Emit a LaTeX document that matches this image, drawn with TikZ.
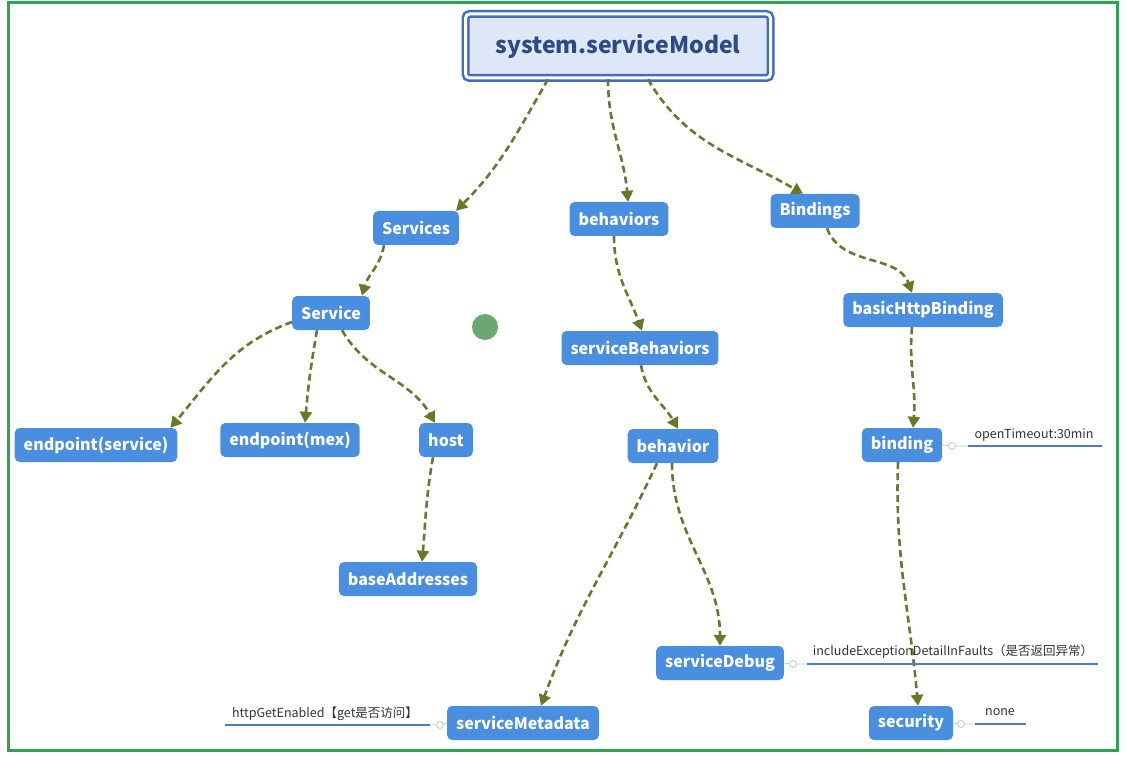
\documentclass[tikz,border=0pt]{standalone}
\usepackage{fontspec}
\setmainfont{Noto Sans CJK SC}
\usetikzlibrary{positioning,calc,arrows.meta}
\definecolor{boxblue}{RGB}{74,142,224}
\definecolor{rootfill}{RGB}{221,231,248}
\definecolor{rootline}{RGB}{68,108,190}
\definecolor{roottext}{RGB}{45,75,130}
\definecolor{linkolive}{RGB}{110,116,50}
\definecolor{tipolive}{RGB}{104,120,36}
\definecolor{noteblue}{RGB}{78,124,196}
\definecolor{framegreen}{RGB}{46,164,82}
\definecolor{cursorgreen}{RGB}{108,166,112}
\tikzset{
  box/.style={fill=boxblue,rounded corners=5pt,text=white,font=\bfseries\fontsize{16}{18}\selectfont,minimum height=34pt,inner xsep=9pt},
  rootbox/.style={draw=rootline,double=white,double distance=3pt,line width=2.5pt,fill=rootfill,rounded corners=4pt,text=roottext,font=\bfseries\fontsize{23}{27}\selectfont,minimum width=305pt,minimum height=64pt},
  links/.style={every edge/.style={draw=linkolive,line width=2.6pt,dash pattern=on 7pt off 4pt,-{Triangle[length=11pt,width=12pt,color=tipolive]}}},
  knob/.style={circle,draw=gray!45,line width=0.8pt,fill=white,inner sep=0pt,minimum size=7pt},
  stub/.style={draw=gray!45,line width=0.8pt},
  note/.style={draw=noteblue,line width=2pt},
  notetext/.style={font=\fontsize{12.5}{14}\selectfont,text=black!80,inner sep=0pt}
}
\begin{document}
\begin{tikzpicture}[x=1pt,y=1pt]
      \useasboundingbox (0,0) rectangle (1126,-759);
      \draw[framegreen,line width=3pt] (8,-3) rectangle (1117,-750);
      \fill[cursorgreen] (485,-327) circle (13);

      \node[rootbox](root) at (618,-46){system.serviceModel};
      \node[box](services) at (416,-228){Services};
      \node[box](behaviors) at (619,-219){behaviors};
      \node[box](bindings) at (815,-211){Bindings};
      \node[box](service) at (331,-313){Service};
      \node[box](sbehaviors) at (640,-348){serviceBehaviors};
      \node[box](basichttp) at (923,-310){basicHttpBinding};
      \node[box](epservice) at (96,-445){endpoint(service)};
      \node[box](epmex) at (290,-440){endpoint(mex)};
      \node[box](host) at (446,-440){host};
      \node[box](behavior) at (673,-446){behavior};
      \node[box](binding) at (902,-445){binding};
      \node[box](baseaddr) at (408,-579){baseAddresses};
      \node[box](sdebug) at (720,-663){serviceDebug};
      \node[box](smetadata) at (523,-723){serviceMetadata};
      \node[box](security) at (911,-723){security};

      \path[links]
      ($(root.south)+(-70,0)$) edge[out=-120,in=45] ($(services.north)+(40,0)$)
      ($(root.south)+(-10,0)$) edge[out=-90,in=95] ($(behaviors.north)+(9,0)$)
      ($(root.south)+(30,0)$) edge[out=-60,in=150] ($(bindings.north)+(-12,0)$)
      ($(services.south)+(-32,0)$) edge[out=-100,in=75] ($(service.north)+(31,0)$)
      ($(behaviors.south)+(-5,0)$) edge[out=-90,in=110] ($(sbehaviors.north)+(2,0)$)
      ($(bindings.south)+(12,0)$) edge[out=-70,in=110] ($(basichttp.north)+(-11,0)$)
      ($(service.west)+(0,-9)$) edge[out=200,in=50] ($(epservice.north east)+(-7,0)$)
      ($(service.south)+(-14,0)$) edge[out=-100,in=85] ($(epmex.north)+(15,0)$)
      ($(service.south)+(11,0)$) edge[out=-60,in=120] ($(host.north)+(-11,0)$)
      ($(host.south)+(-13,0)$) edge[out=-100,in=85] ($(baseaddr.north)+(14,0)$)
      ($(sbehaviors.south)+(1,0)$) edge[out=-80,in=120] ($(behavior.north)+(5,0)$)
      ($(behavior.south)+(-16,0)$) edge[out=-115,in=70] ($(smetadata.north)+(18,0)$)
      ($(behavior.south)+(-1,0)$) edge[out=-90,in=90] (sdebug.north)
      ($(basichttp.south)+(-11,0)$) edge[out=-95,in=85] ($(binding.north)+(11,0)$)
      ($(binding.south)+(-4,0)$) edge[out=-92,in=95] ($(security.north)+(7,0)$);

      \node[knob](bindingknob) at (952,-446){};
      \node[knob](sdebugknob) at (793,-664){};
      \node[knob](securityknob) at (961,-724){};
      \node[knob](smetadataknob) at (440,-725){};
      \coordinate(bindingend) at (1102,-446);
      \coordinate(sdebugend) at (1098,-664);
      \coordinate(securityend) at (1026,-724);
      \coordinate(smetadataend) at (225,-725);

      \draw[stub] (binding.east) -- (bindingknob) -- (bindingend);
      \draw[stub] (sdebug.east) -- (sdebugknob) -- (sdebugend);
      \draw[stub] (security.east) -- (securityknob) -- (securityend);
      \draw[stub] (smetadata.west) -- (smetadataknob) -- (smetadataend);
      \draw[note] ($(bindingknob.east)+(12,0)$) -- (bindingend);
      \draw[note] ($(sdebugknob.east)+(10,0)$) -- (sdebugend);
      \draw[note] ($(securityknob.east)+(10,0)$) -- (securityend);
      \draw[note] ($(smetadataknob.west)+(-6,0)$) -- (smetadataend);

      \node[notetext](timeoutnote) at (1034,-435){openTimeout:30min};
      \node[notetext](faultsnote) at (953,-652){includeExceptionDetailInFaults（是否返回异常）};
      \node[notetext](securitynote) at (1000,-712){none};
      \node[notetext](httpgetnote) at (325,-714){httpGetEnabled【get是否访问】};
    \end{tikzpicture}
\end{document}
